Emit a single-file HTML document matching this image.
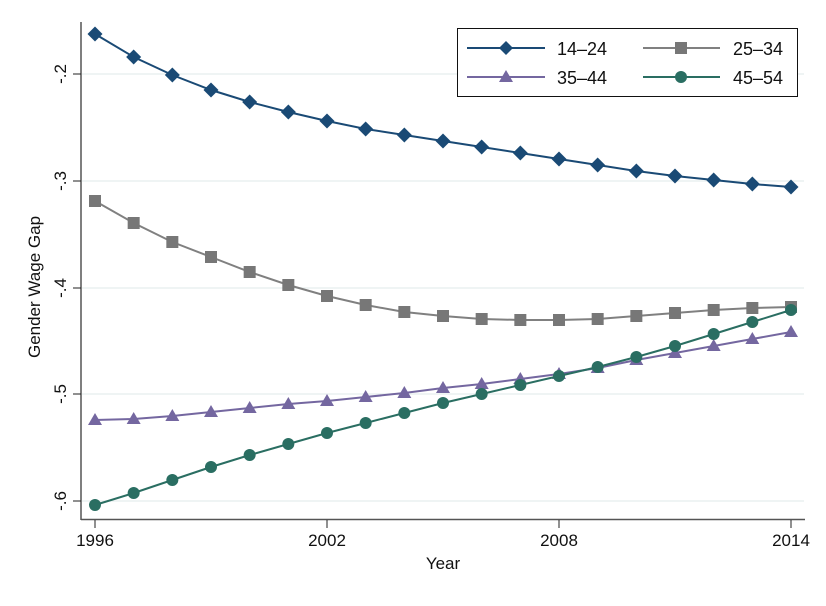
<!DOCTYPE html>
<html><head><meta charset="utf-8"><style>
html,body{margin:0;padding:0;background:#fff;}
svg text{font-family:"Liberation Sans",sans-serif;fill:#111;}
</style></head><body>
<svg id="s" width="826" height="601" viewBox="0 0 826 601" xmlns="http://www.w3.org/2000/svg">
<rect width="826" height="601" fill="#fff"/>
<g stroke="#eaf0f0" stroke-width="1.5">
<line x1="82" x2="804" y1="74" y2="74"/>
<line x1="82" x2="804" y1="181" y2="181"/>
<line x1="82" x2="804" y1="288" y2="288"/>
<line x1="82" x2="804" y1="394" y2="394"/>
<line x1="82" x2="804" y1="501" y2="501"/>
</g>
<g stroke="#555" stroke-width="1.5">
<line x1="81" x2="81" y1="22" y2="520"/>
<line x1="81" x2="805" y1="519.5" y2="519.5"/>
</g>
<g stroke="#222" stroke-width="1">
<line x1="73" x2="81" y1="74" y2="74"/>
<line x1="73" x2="81" y1="181" y2="181"/>
<line x1="73" x2="81" y1="288" y2="288"/>
<line x1="73" x2="81" y1="394" y2="394"/>
<line x1="73" x2="81" y1="501" y2="501"/>
<line x1="95" x2="95" y1="520" y2="528"/>
<line x1="327" x2="327" y1="520" y2="528"/>
<line x1="559" x2="559" y1="520" y2="528"/>
<line x1="791" x2="791" y1="520" y2="528"/>
</g>
<g font-size="17" text-anchor="middle">
<text transform="translate(66,74) rotate(-90)">-.2</text>
<text transform="translate(66,181) rotate(-90)">-.3</text>
<text transform="translate(66,288) rotate(-90)">-.4</text>
<text transform="translate(66,394) rotate(-90)">-.5</text>
<text transform="translate(66,501) rotate(-90)">-.6</text>
<text x="95" y="546">1996</text>
<text x="327" y="546">2002</text>
<text x="559" y="546">2008</text>
<text x="791" y="546">2014</text>
<text x="443" y="569">Year</text>
<text transform="translate(40,287) rotate(-90)">Gender Wage Gap</text>
</g>
<g id="series"></g>
<rect x="457.5" y="28.5" width="340" height="68" fill="#fff" stroke="#111" stroke-width="1"/>
<g stroke-width="2">
<line x1="467" x2="545" y1="48" y2="48" stroke="#1a4a75"/>
<line x1="643" x2="720" y1="48" y2="48" stroke="#808080"/>
<line x1="467" x2="545" y1="77" y2="77" stroke="#7467a0"/>
<line x1="643" x2="720" y1="77" y2="77" stroke="#2a6e62"/>
</g>
<path d="M506 41 L513 48 L506 55 L499 48Z" fill="#1a4a75"/>
<rect x="675" y="42" width="12" height="12" fill="#777"/>
<path d="M506 70 L513 82 L499 82Z" fill="#7467a0"/>
<circle cx="681" cy="77" r="6" fill="#2a6e62"/>
<g font-size="18">
<text x="557" y="55">14–24</text>
<text x="733" y="55">25–34</text>
<text x="557" y="84">35–44</text>
<text x="733" y="84">45–54</text>
</g>
</svg>
<script>
var d={
a:[34,57,75,90,102,112,121,129,135,141,147,153,159,165,171,176,180,184,187],
b:[201,223,242,257,272,285,296,305,312,316,319,320,320,319,316,313,310,308,307],
c:[420,419,416,412,408,404,401,397,393,388,384,379,374,368,360,353,346,339,332],
e:[505,493,480,467,455,444,433,423,413,403,394,385,376,367,357,346,334,322,310]};
var cfg=[['b','#808080','sq'],['c','#7467a0','tri'],['e','#2a6e62','circ'],['a','#1a4a75','dia']];
var out='';
cfg.forEach(function(c){
var ys=d[c[0]],pts=ys.map(function(y,i){return (95+i*38.667).toFixed(1)+','+y}).join(' ');
out+='<polyline points="'+pts+'" fill="none" stroke="'+c[1]+'" stroke-width="2"/>';
ys.forEach(function(y,i){var x=95+i*38.667;
if(c[2]=='sq')out+='<rect x="'+(x-6)+'" y="'+(y-6)+'" width="12" height="12" fill="#777"/>';
if(c[2]=='tri')out+='<path d="M'+x+' '+(y-7)+' L'+(x+7)+' '+(y+5)+' L'+(x-7)+' '+(y+5)+'Z" fill="'+c[1]+'"/>';
if(c[2]=='circ')out+='<circle cx="'+x+'" cy="'+y+'" r="6" fill="'+c[1]+'"/>';
if(c[2]=='dia')out+='<path d="M'+x+' '+(y-7.5)+' L'+(x+7.5)+' '+y+' L'+x+' '+(y+7.5)+' L'+(x-7.5)+' '+y+'Z" fill="'+c[1]+'"/>';
});});
document.getElementById('series').innerHTML=out;
</script>
</body></html>
